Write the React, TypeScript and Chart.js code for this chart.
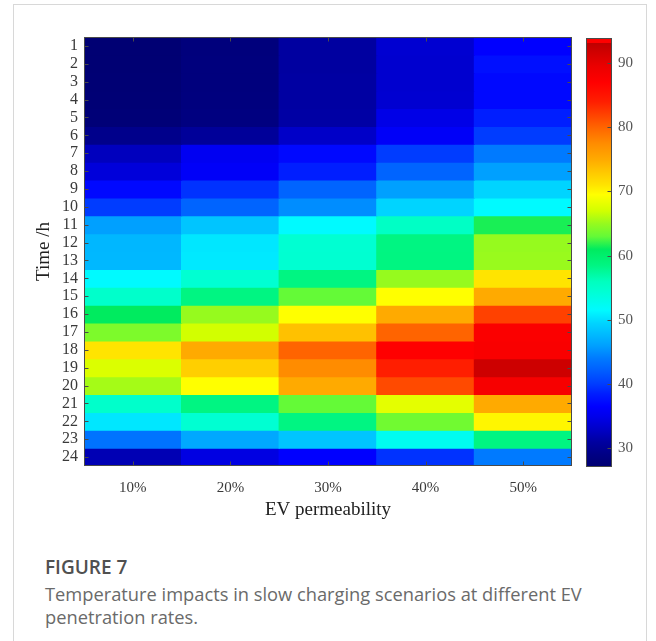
import React, { useEffect, useRef } from 'react';
import { Chart, registerables } from 'chart.js';

Chart.register(...registerables);

// ---------------- data ----------------
const permeability = ['10%', '20%', '30%', '40%', '50%'];
const hours = [1, 2, 3, 4, 5, 6, 7, 8, 9, 10, 11, 12, 13, 14, 15, 16, 17, 18, 19, 20, 21, 22, 23, 24];

const p10 = [27.4, 27.4, 27.5, 27.6, 27.8, 29.5, 32.5, 34, 37, 40, 46, 47.5, 47.6, 51.5, 55, 61, 64, 71, 67.5, 65.5, 55, 50.5, 43.5, 32];
const p20 = [28.2, 28.3, 28.3, 28.4, 28.6, 30.5, 35.5, 36, 39.5, 42.5, 48.5, 50.5, 50.6, 54.5, 58.5, 65, 67, 75, 72.5, 69.5, 58.5, 54.5, 46.5, 34.5];
const p30 = [31, 31, 31.1, 31.1, 31.2, 33, 37, 38.5, 42.5, 45, 51.5, 54.5, 54.6, 58.5, 63, 69.5, 73.5, 80, 77.5, 75, 63, 58.5, 48.5, 36.5];
const p40 = [33.5, 33.4, 33.4, 33.5, 34.8, 36, 40, 42.5, 46, 49.5, 55.5, 58.5, 58.6, 65, 69.5, 75, 80, 87, 84, 81.5, 68, 63.5, 52.5, 39.5];
const p50 = [36.5, 37.5, 37, 37, 38.5, 40, 44, 46, 49.5, 51.5, 61.5, 65, 65.1, 71, 75, 82, 87.5, 87.8, 92, 88, 75, 70, 58.5, 44];

const colorbarMin = 27.1;
const colorbarMax = 93.9;
const colorbarTicks = [30, 40, 50, 60, 70, 80, 90];

// ---------------- colormap (style) ----------------
const COLORMAP: [number, number, number, number][] = [
  [27.1, 0, 0, 112],
  [29, 0, 0, 132],
  [31, 0, 0, 160],
  [33, 0, 0, 200],
  [35, 0, 0, 235],
  [36.5, 0, 0, 255],
  [38.5, 0, 30, 255],
  [40, 0, 60, 255],
  [42.5, 0, 100, 255],
  [44, 0, 122, 255],
  [46, 0, 160, 255],
  [48, 0, 190, 255],
  [49.5, 0, 212, 255],
  [51.5, 0, 250, 255],
  [54.5, 0, 255, 210],
  [56, 0, 255, 190],
  [58.5, 0, 245, 130],
  [61, 0, 235, 95],
  [63, 100, 250, 55],
  [65, 150, 250, 30],
  [67, 210, 255, 0],
  [69.5, 255, 255, 0],
  [71, 255, 228, 0],
  [73, 255, 200, 0],
  [75, 255, 170, 0],
  [77.5, 255, 140, 0],
  [80, 255, 100, 0],
  [82, 255, 65, 0],
  [84, 255, 30, 0],
  [87, 255, 0, 0],
  [89.5, 235, 0, 0],
  [92, 205, 0, 0],
  [93.1, 190, 0, 0],
  [93.2, 255, 0, 0],
  [93.9, 255, 0, 0],
];

function colorFor(v: number): string {
  if (v <= COLORMAP[0][0]) {
    const c = COLORMAP[0];
    return `rgb(${c[1]},${c[2]},${c[3]})`;
  }
  for (let i = 1; i < COLORMAP.length; i++) {
    const a = COLORMAP[i - 1];
    const b = COLORMAP[i];
    if (v <= b[0]) {
      const t = (v - a[0]) / (b[0] - a[0]);
      const r = Math.round(a[1] + (b[1] - a[1]) * t);
      const g = Math.round(a[2] + (b[2] - a[2]) * t);
      const bl = Math.round(a[3] + (b[3] - a[3]) * t);
      return `rgb(${r},${g},${bl})`;
    }
  }
  const c = COLORMAP[COLORMAP.length - 1];
  return `rgb(${c[1]},${c[2]},${c[3]})`;
}

const columns = [p10, p20, p30, p40, p50];

const SERIF = "'Liberation Serif', 'DejaVu Serif', serif";
const SANS = "'Open Sans', 'Noto Sans', sans-serif";

const framePlugin = {
  id: 'frame',
  afterDatasetsDraw(chart: any, _args: any, opts: any) {
    const { ctx, chartArea: a } = chart;
    ctx.save();
    ctx.strokeStyle = opts.color || '#444';
    ctx.lineWidth = 1;
    const l = Math.round(a.left) + 0.5;
    const t = Math.round(a.top) + 0.5;
    const r = Math.round(a.right) - 0.5;
    const b = Math.round(a.bottom) - 0.5;
    ctx.strokeRect(l, t, r - l, b - t);
    const L = opts.tick || 4;
    ctx.beginPath();
    if (opts.xTicks) {
      const xs = chart.scales.x;
      xs.ticks.forEach((_tk: any, i: number) => {
        const x = Math.round(xs.getPixelForTick(i)) + 0.5;
        ctx.moveTo(x, t);
        ctx.lineTo(x, t + L);
        ctx.moveTo(x, b);
        ctx.lineTo(x, b - L);
      });
    }
    const ys = chart.scales.y;
    ys.ticks.forEach((tk: any) => {
      const y = Math.round(ys.getPixelForValue(tk.value)) + 0.5;
      if (opts.leftTicks) {
        ctx.moveTo(l, y);
        ctx.lineTo(l + L, y);
      }
      ctx.moveTo(r, y);
      ctx.lineTo(r - L, y);
    });
    ctx.stroke();
    ctx.restore();
  },
};

function HeatChart() {
  const ref = useRef<HTMLCanvasElement>(null);
  useEffect(() => {
    if (!ref.current) return;
    const datasets = hours.map((h, r) => ({
      label: String(h),
      data: permeability.map(() => [h - 0.5, h + 0.5]),
      backgroundColor: columns.map((col) => colorFor(col[r])),
      borderWidth: 0,
      barPercentage: 1,
      categoryPercentage: 1,
      grouped: false,
      inflateAmount: 0.6,
    }));
    const chart = new Chart(ref.current, {
      type: 'bar',
      data: { labels: permeability, datasets: datasets as any },
      plugins: [framePlugin as any],
      options: {
        animation: false,
        responsive: false,
        devicePixelRatio: 1,
        layout: { padding: { top: 37, left: 0, right: 8, bottom: 0 } },
        plugins: {
          legend: { display: false },
          tooltip: { enabled: false },
          frame: { color: '#4a4a4a', tick: 4, xTicks: true, leftTicks: true },
        } as any,
        scales: {
          x: {
            type: 'category',
            grid: { display: false, drawTicks: false },
            border: { display: false },
            ticks: { color: '#3a3a3a', font: { family: SERIF, size: 15 }, padding: 13 },
            title: {
              display: true,
              text: 'EV permeability',
              color: '#222',
              font: { family: SERIF, size: 19 },
              padding: { top: 0, bottom: 9 },
            },
            afterFit: (s: any) => {
              s.height = 64;
            },
          },
          y: {
            type: 'linear',
            min: 0.5,
            max: 24.5,
            reverse: true,
            grid: { display: false, drawTicks: false },
            border: { display: false },
            afterBuildTicks: (s: any) => {
              s.ticks = hours.map((v) => ({ value: v }));
            },
            ticks: {
              color: '#3a3a3a',
              font: { family: SERIF, size: 16 },
              padding: 6,
              autoSkip: false,
            },
            title: {
              display: true,
              text: 'Time /h',
              color: '#222',
              font: { family: SERIF, size: 19 },
              padding: { top: 33, bottom: 0 },
            },
            afterFit: (s: any) => {
              s.width = 84;
            },
          },
        },
      },
    });
    return () => chart.destroy();
  }, []);
  return <canvas ref={ref} width={580} height={530} style={{ position: 'absolute', left: 0, top: 0 }} />;
}

function ColorBar() {
  const ref = useRef<HTMLCanvasElement>(null);
  useEffect(() => {
    if (!ref.current) return;
    const chart = new Chart(ref.current, {
      type: 'bar',
      data: {
        labels: ['scale'],
        datasets: [
          {
            data: [[colorbarMin, colorbarMax]] as any,
            borderWidth: 0,
            barPercentage: 1,
            categoryPercentage: 1,
            backgroundColor: (c: any) => {
              const ch = c.chart;
              const ys = ch.scales.y;
              if (!ch.chartArea || !ys) return 'rgb(0,0,255)';
              const y0 = ys.getPixelForValue(colorbarMin);
              const y1 = ys.getPixelForValue(colorbarMax);
              const g = ch.ctx.createLinearGradient(0, y0, 0, y1);
              COLORMAP.forEach((s) => {
                const f = (s[0] - colorbarMin) / (colorbarMax - colorbarMin);
                g.addColorStop(Math.min(1, Math.max(0, f)), `rgb(${s[1]},${s[2]},${s[3]})`);
              });
              return g;
            },
          },
        ],
      },
      plugins: [framePlugin as any],
      options: {
        animation: false,
        responsive: false,
        devicePixelRatio: 1,
        layout: { padding: { top: 38, left: 16, right: 0, bottom: 63 } },
        plugins: {
          legend: { display: false },
          tooltip: { enabled: false },
          frame: { color: '#4a4a4a', tick: 4, xTicks: false, leftTicks: false },
        } as any,
        scales: {
          x: { display: false },
          y: {
            type: 'linear',
            position: 'right',
            min: colorbarMin,
            max: colorbarMax,
            grid: { display: false, drawTicks: false },
            border: { display: false },
            afterBuildTicks: (s: any) => {
              s.ticks = colorbarTicks.map((v) => ({ value: v }));
            },
            ticks: { color: '#555', font: { family: SERIF, size: 15 }, padding: 6 },
            afterFit: (s: any) => {
              s.width = 44;
            },
          },
        },
      },
    });
    return () => chart.destroy();
  }, []);
  return <canvas ref={ref} width={86} height={530} style={{ position: 'absolute', left: 570, top: 0 }} />;
}

export default function App() {
  return (
    <div
      style={{
        position: 'absolute',
        left: 0,
        top: 0,
        width: 656,
        height: 641,
        overflow: 'hidden',
        background: '#fff',
      }}
    >
      <div
        style={{
          position: 'absolute',
          left: 13,
          top: 4,
          width: 634,
          height: 700,
          border: '1px solid #d8d8d8',
          boxSizing: 'border-box',
        }}
      />
      <HeatChart />
      <ColorBar />
      <div
        style={{
          position: 'absolute',
          left: 45,
          top: 555,
          fontFamily: SANS,
          fontSize: 19,
          fontWeight: 600,
          lineHeight: '24px',
          color: '#505050',
          whiteSpace: 'nowrap',
        }}
      >
        FIGURE 7
      </div>
      <div
        style={{
          position: 'absolute',
          left: 45,
          top: 582,
          fontFamily: SANS,
          fontSize: 18.3,
          lineHeight: '23px',
          color: '#6a6a6a',
          whiteSpace: 'nowrap',
        }}
      >
        Temperature impacts in slow charging scenarios at different EV
        <br />
        penetration rates.
      </div>
    </div>
  );
}
